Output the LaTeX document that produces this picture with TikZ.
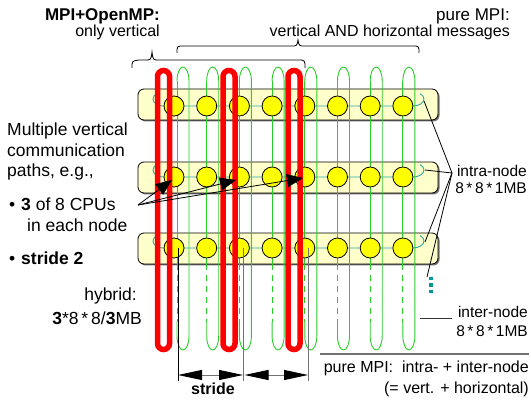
\documentclass[tikz,border=0pt]{standalone}
\usepackage{fontspec}
\setmainfont{Liberation Sans}
\usetikzlibrary{arrows.meta,calc}
\definecolor{barfill}{RGB}{255,255,204}
\definecolor{cpuyel}{RGB}{255,255,0}
\definecolor{tealc}{RGB}{40,170,170}
\definecolor{dotc}{RGB}{0,150,150}
\definecolor{grn}{RGB}{40,205,40}
\definecolor{redl}{RGB}{255,0,0}
\begin{document}
\begin{tikzpicture}[x=1pt,y=-1pt,
  barbox/.style={rectangle, rounded corners=6pt, minimum width=300pt, minimum height=31pt, inner sep=0pt, fill=barfill, draw=black, line width=0.8pt},
  barshadow/.style={fill=black!55, rounded corners=6pt},
  cpu/.style={circle, minimum size=20pt, inner sep=0pt, fill=cpuyel, draw=black, line width=0.8pt},
  tl/.style={draw=tealc, line width=0.9pt},
  gl/.style={draw=grn, line width=0.9pt},
  gldash/.style={draw=grn, line width=0.9pt, dash pattern=on 6pt off 5pt},
  rl/.style={draw=redl, line width=5.5pt},
  lbl/.style={inner sep=0pt, font=\fontsize{16}{19}\selectfont},
  lblh/.style={inner sep=0pt, font=\fontsize{17}{20}\selectfont},
  lbll/.style={inner sep=0pt, font=\fontsize{17.5}{20}\selectfont},
  lblr/.style={inner sep=0pt, font=\fontsize{15.5}{18}\selectfont},
  thinblk/.style={draw=black, line width=0.8pt},
  callout/.style={draw=black, line width=0.8pt},
  extline/.style={line width=1pt},
  bigarrow/.style={draw=black, line width=0.8pt, -{Triangle[length=16pt,width=13pt]}},
  dimarrow/.style={draw=black!55, line width=1pt, {Triangle[length=24pt,width=10pt,color=black]}-{Triangle[length=24pt,width=10pt,color=black]}}
]
\useasboundingbox (0,0) rectangle (531,401);

% node bars
\foreach \r/\yt in {1/89,2/162,3/233}{
  \fill[barshadow] (139.5,\yt+1.5) rectangle (439.5,\yt+32.5);
  \node[barbox] (bar\r) at (288,\yt+15.5) {};
}

% teal intra-node rings
\foreach \cy in {106,177,248}{
  \draw[tl] (163,\cy) arc[start angle=90,end angle=235,x radius=10,y radius=7];
  \draw[tl] (163,\cy) -- (413,\cy) arc[start angle=90,end angle=-50,x radius=11,y radius=7];
}
\coordinate (ring1) at (424,101);
\coordinate (ring2) at (425,170);
\coordinate (ring3) at (425,242);
\coordinate (ringdots) at (427,277);

% green vertical loops
\foreach \xl in {177,206.7,239.4,272.1,304.8,337.5,370.2,402.9}{
  \draw[gl] (\xl,81) -- (\xl,264);
  \draw[gldash] (\xl,264) -- (\xl,322);
  \draw[gl] (\xl,322) -- (\xl,336) arc[start angle=180,end angle=0,x radius=6,y radius=14]
        -- (\xl+12,81) arc[start angle=0,end angle=-180,x radius=6,y radius=14];
}

% CPUs
\foreach \r/\cy in {1/106,2/177,3/248}{
  \foreach \i/\cx in {1/174,2/206.7,3/239.4,4/272.1,5/304.8,6/337.5,7/370.2,8/402.9}{
    \node[cpu] (c\r\i) at (\cx,\cy) {};
  }
}

% red hybrid loops
\foreach \cx in {163.5,229,294}{
  \draw[rl] (\cx-6,76.5) -- (\cx-6,343.5) arc[start angle=180,end angle=0,radius=6]
        -- (\cx+6,76.5) arc[start angle=0,end angle=-180,radius=6] -- cycle;
}

% braces
\draw[thinblk] (132,68) .. controls (132,61) .. (139,60) -- (145,60)
   .. controls (151,60) .. (152,52) .. controls (153,60) .. (159,60)
   -- (298,60) .. controls (305,60) .. (305,68);
\draw[thinblk] (177,53) .. controls (177,46) .. (184,46) -- (291,46)
   .. controls (297,46) .. (298,40) .. controls (299,46) .. (305,46)
   -- (412,46) .. controls (419,46) .. (419,53);

% top labels
\node[lblh, anchor=base east] (mpiomp) at (160,21) {\textbf{MPI+OpenMP:}};
\node[lbl, anchor=base east] (onlyv) at (160,37) {only vertical};
\node[lblh, anchor=base east] (pmpi) at (510,21) {pure MPI:};
\node[lbl, anchor=base east] (vah) at (510,37) {vertical AND horizontal messages};

% left labels
\node[lbll, anchor=base west] (mv) at (7,136) {Multiple vertical};
\node[lbll, anchor=base west] (comm) at (7,157) {communication};
\node[lbll, anchor=base west] (paths) at (7,177) {paths, e.g.,};
\node[lbll, anchor=base west] (bul1) at (9,211) {•};
\node[lbll, anchor=base west] (three) at (21,211) {\textbf{3} of 8 CPUs};
\node[lbll, anchor=base west] (each) at (27,232) {in each node};
\node[lbll, anchor=base west] (bul2) at (9,265) {•};
\node[lbll, anchor=base west] (strd) at (21,265) {\textbf{stride 2}};
\node[lbll, anchor=base east] (hyb) at (137,301) {hybrid:};
\node[lbll, anchor=base east] (hybv) at (142,324) {\textbf{3}*8\,*\,8/\textbf{3}MB};

% arrows to the 3 CPUs
\coordinate (atail) at (138,205);
\coordinate (tip1) at (172,180);
\coordinate (tip2) at (236,180);
\coordinate (tip3) at (303,178);
\draw[bigarrow] (atail) -- (tip1);
\draw[bigarrow] (atail) -- (tip2);
\draw[bigarrow] (atail) -- (tip3);

% right labels
\node[lblr, anchor=base east] (intra) at (527,177) {intra-node};
\node[lblr, anchor=base east] (intrav) at (527,194) {8\,*\,8\,*\,1MB};
\coordinate (intrapt) at (452,173);
\draw[callout] (intrapt) -- (ring1);
\draw[callout] (intrapt) -- (ring2);
\draw[callout] (intrapt) -- (ring3);
\draw[callout] (intrapt) -- (ringdots);
\foreach \dy in {278.5,285,291.5}{
  \fill[dotc] (429.2,\dy-1.8) rectangle (432.8,\dy+1.8);
}
\node[lblr, anchor=base east] (inter) at (528,318) {inter-node};
\node[lblr, anchor=base east] (interv) at (528,337) {8\,*\,8\,*\,1MB};
\coordinate (interend) at (420,318);
\coordinate (interstart) at (452,318);
\draw[callout, draw=black!80] (interend) -- (interstart);

\coordinate (sepl) at (320,354);
\coordinate (sepr) at (529,354);
\draw[draw=black!55, line width=1pt] (sepl) -- (sepr);
\node[lbl, anchor=base east] (pm1) at (529,373) {pure MPI:\ \ intra- + inter-node};
\node[lbl, anchor=base east] (pm2) at (529,393) {(= vert. + horizontal)};

% stride dimension
\coordinate (e1) at (178,248);
\coordinate (e2) at (243,248);
\coordinate (e3) at (308,248);
\coordinate (s1) at (178,375);
\coordinate (s2) at (243,375);
\coordinate (s3) at (308,375);
\coordinate (f1) at (178,381);
\coordinate (f2) at (243,381);
\coordinate (f3) at (308,381);
\coordinate (s2b) at (244.5,375);
\draw[extline, draw=black] (e1) -- (f1);
\draw[extline, draw=black!55] (e2) -- (f2);
\draw[extline, draw=black!55] (e3) -- (f3);
\draw[dimarrow] (s1) -- (s2);
\draw[dimarrow] (s2b) -- (s3);
\node[lbl, anchor=base, font=\fontsize{16}{19}\selectfont\bfseries] (stridelbl) at (213,395) {stride};
\end{tikzpicture}
\end{document}
